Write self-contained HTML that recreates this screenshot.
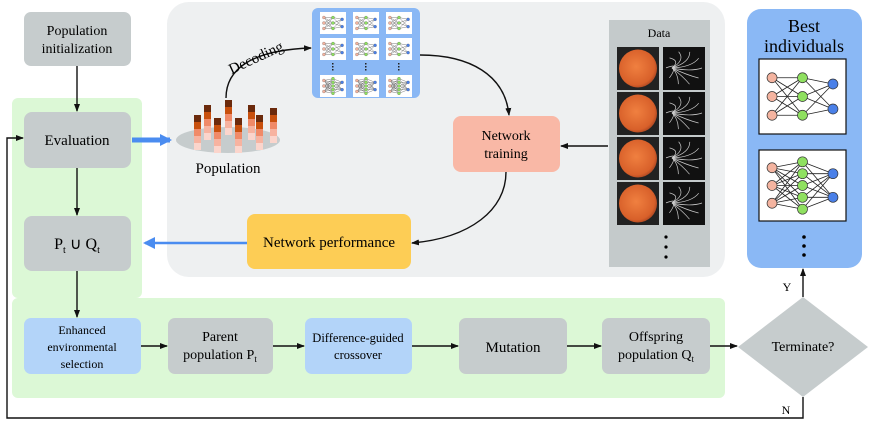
<!DOCTYPE html>
<html><head><meta charset="utf-8"><style>
body{margin:0;background:#fff}
svg{display:block}
svg text{font-family:"Liberation Serif","Times New Roman",serif}
</style></head><body>
<svg id="s" width="872" height="428" viewBox="0 0 872 428" xmlns="http://www.w3.org/2000/svg" font-family="Liberation Serif, serif">
<defs>
<marker id="a" markerWidth="8" markerHeight="8" refX="7" refY="4" orient="auto" markerUnits="userSpaceOnUse"><path d="M0,1 L8,4 L0,7 Z" fill="#111"/></marker>
<marker id="b" markerWidth="12" markerHeight="12" refX="10" refY="6" orient="auto" markerUnits="userSpaceOnUse"><path d="M0,0 L12,6 L0,12 Z" fill="#4a8cf0"/></marker>
<radialGradient id="fg" cx="0.45" cy="0.45" r="0.6"><stop offset="0" stop-color="#f08040"/><stop offset="0.8" stop-color="#d8602a"/><stop offset="1" stop-color="#a04020"/></radialGradient>
</defs>
<rect x="167" y="2" width="558" height="275" rx="22" fill="#eef0f1"/>
<rect x="12" y="98" width="130" height="200" rx="6" fill="#dcf8d6"/>
<rect x="12" y="298" width="713" height="100" rx="6" fill="#dcf8d6"/>
<rect x="747" y="9" width="115" height="259" rx="14" fill="#8ab8f5"/>
<rect x="609" y="20" width="101" height="247" fill="#c4cacb"/>
<text x="659" y="37" font-size="12" text-anchor="middle">Data</text>
<g id="fundus"></g>
<rect x="24" y="12" width="107" height="54" rx="7" fill="#c6cccd"/>
<text x="77" y="35" font-size="14" text-anchor="middle">Population</text>
<text x="77" y="53" font-size="14" text-anchor="middle">initialization</text>
<rect x="24" y="112" width="107" height="56" rx="8" fill="#c6cccd"/>
<text x="77" y="145" font-size="15" text-anchor="middle">Evaluation</text>
<rect x="24" y="216" width="107" height="55" rx="8" fill="#c6cccd"/>
<text x="77" y="249" font-size="16" text-anchor="middle">P<tspan font-size="10" dy="4">t</tspan><tspan dy="-4"> ∪  Q</tspan><tspan font-size="10" dy="4">t</tspan></text>
<rect x="453" y="116" width="107" height="56" rx="8" fill="#f9b8a6"/>
<text x="506" y="140" font-size="14" text-anchor="middle">Network</text>
<text x="506" y="158" font-size="14" text-anchor="middle">training</text>
<rect x="247" y="214" width="164" height="55" rx="8" fill="#fdcd55"/>
<text x="329" y="247" font-size="15" text-anchor="middle">Network performance</text>
<rect x="24" y="318" width="117" height="56" rx="7" fill="#b3d4f9"/>
<text x="82" y="334" font-size="12" text-anchor="middle">Enhanced</text>
<text x="82" y="351" font-size="12" text-anchor="middle">environmental</text>
<text x="82" y="368" font-size="12" text-anchor="middle">selection</text>
<rect x="168" y="318" width="105" height="56" rx="7" fill="#c6cccd"/>
<text x="220" y="341" font-size="14" text-anchor="middle">Parent</text>
<text x="220" y="359" font-size="14" text-anchor="middle">population P<tspan font-size="9" dy="3">t</tspan></text>
<rect x="305" y="318" width="107" height="56" rx="7" fill="#b3d4f9"/>
<text x="358" y="342" font-size="12.5" text-anchor="middle">Difference-guided</text>
<text x="358" y="359" font-size="12.5" text-anchor="middle">crossover</text>
<rect x="459" y="318" width="108" height="56" rx="7" fill="#c6cccd"/>
<text x="513" y="352" font-size="15" text-anchor="middle">Mutation</text>
<rect x="602" y="318" width="108" height="56" rx="7" fill="#c6cccd"/>
<text x="656" y="341" font-size="14" text-anchor="middle">Offspring</text>
<text x="656" y="359" font-size="14" text-anchor="middle">population Q<tspan font-size="9" dy="3">t</tspan></text>
<polygon points="803,297 868,347 803,397 738,347" fill="#c6cccd"/>
<text x="803" y="351" font-size="14" text-anchor="middle">Terminate?</text>
<text x="804" y="32" font-size="18" text-anchor="middle">Best</text>
<text x="804" y="52" font-size="18" text-anchor="middle">individuals</text>
<circle cx="804" cy="237" r="1.8"/><circle cx="804" cy="246" r="1.8"/><circle cx="804" cy="255" r="1.8"/>
<circle cx="666" cy="237" r="1.6"/><circle cx="666" cy="247" r="1.6"/><circle cx="666" cy="257" r="1.6"/>
<ellipse cx="228" cy="140" rx="52" ry="13" fill="#c6cccd"/>
<g id="bars"></g>
<text x="228" y="173" font-size="15" text-anchor="middle">Population</text>
<rect x="312" y="8" width="108" height="90" rx="6" fill="#8ab8f5"/>
<g id="grid"></g>
<g id="best"></g>
<g stroke="#111" stroke-width="1.4" fill="none">
<line x1="77" y1="66" x2="77" y2="111" marker-end="url(#a)"/>
<line x1="77" y1="168" x2="77" y2="215" marker-end="url(#a)"/>
<line x1="77" y1="271" x2="77" y2="317" marker-end="url(#a)"/>
<line x1="141" y1="346" x2="167" y2="346" marker-end="url(#a)"/>
<line x1="273" y1="346" x2="304" y2="346" marker-end="url(#a)"/>
<line x1="412" y1="346" x2="458" y2="346" marker-end="url(#a)"/>
<line x1="567" y1="346" x2="601" y2="346" marker-end="url(#a)"/>
<line x1="710" y1="346" x2="737" y2="346" marker-end="url(#a)"/>
<line x1="803" y1="297" x2="803" y2="269" marker-end="url(#a)"/>
<polyline points="803,397 803,418 7,418 7,138 23,138" marker-end="url(#a)"/>
<line x1="608" y1="146" x2="561" y2="146" marker-end="url(#a)"/>
<path d="M226,98 C226,70 250,50 311,48" marker-end="url(#a)"/>
<path d="M420,55 C470,55 505,75 509,115" marker-end="url(#a)"/>
<path d="M506,172 C506,210 470,238 412,243" marker-end="url(#a)"/>
</g>
<line x1="132" y1="140" x2="170" y2="140" stroke="#4a8cf0" stroke-width="5" marker-end="url(#b)"/>
<line x1="247" y1="243" x2="145" y2="243" stroke="#4a8cf0" stroke-width="2.5" marker-end="url(#b)"/>
<text x="258" y="62" font-size="15" transform="rotate(-25 258 62)" text-anchor="middle">Decoding</text>
<text x="787" y="291" font-size="12" text-anchor="middle">Y</text>
<text x="786" y="414" font-size="12" text-anchor="middle">N</text>
</svg>
<script>
var NS="http://www.w3.org/2000/svg";
function el(p,t,a){var e=document.createElementNS(NS,t);for(var k in a)e.setAttribute(k,a[k]);p.appendChild(e);return e;}
var bars=document.getElementById('bars');
var cols=["#6b2a0c","#c8500e","#f08a68","#f7b3a0","#fbd5cc"];
[[197,115],[207,105],[217,118],[228,100],[238,118],[251,105],[259,115],[273,108]].forEach(function(b){
 for(var i=0;i<5;i++)el(bars,'rect',{x:b[0]-3,y:b[1]+i*7,width:7,height:7,fill:cols[i]});
});
var f=document.getElementById('fundus');
for(var i=0;i<4;i++){var y=47+i*45;
 el(f,'rect',{x:617,y:y,width:42,height:43,fill:'#222'});
 el(f,'circle',{cx:638,cy:y+21.5,r:19,fill:'url(#fg)'});
 el(f,'rect',{x:663,y:y,width:42,height:43,fill:'#111'});
 for(var j=0;j<10;j++){var ang=j*0.63;var x2=684+Math.cos(ang)*18,y2=y+21+Math.sin(ang)*17;
  el(f,'path',{d:'M'+(672)+','+(y+21)+' Q'+(684+Math.cos(ang+0.5)*8)+','+(y+21+Math.sin(ang+0.5)*8)+' '+x2+','+y2,stroke:'#ccc','stroke-width':0.7,fill:'none'});}
}
function net(p,x,y,w,h,L,r){
 var xs=[x+w*0.15,x+w*0.5,x+w*0.85],cl=['#f4b4a0','#8fe060','#4a80e8'],pts=[];
 for(var l=0;l<3;l++){pts[l]=[];for(var k=0;k<L[l];k++)pts[l].push([xs[l],y+h*(k+1)/(L[l]+1)]);}
 for(var l=0;l<2;l++)pts[l].forEach(function(a){pts[l+1].forEach(function(b){el(p,'line',{x1:a[0],y1:a[1],x2:b[0],y2:b[1],stroke:'#222','stroke-width':r>3?0.8:0.3});});});
 for(var l=0;l<3;l++)pts[l].forEach(function(a){el(p,'circle',{cx:a[0],cy:a[1],r:r,fill:cl[l],stroke:'#333','stroke-width':r>3?0.7:0.2});});
}
var g=document.getElementById('grid');
for(var c=0;c<3;c++){var x=320+c*33;
 [12,38,75].forEach(function(y,k){el(g,'rect',{x:x,y:y,width:26,height:22,fill:'#fff'});net(g,x,y,26,22,[3,k==2?5:3,2],1.5);});
 for(var d=0;d<3;d++)el(g,'rect',{x:x+12,y:63+d*3,width:1.5,height:1.5,fill:'#222'});
}
var b=document.getElementById('best');
el(b,'rect',{x:759,y:59,width:87,height:75,fill:'#fff',stroke:'#111','stroke-width':1.2});
net(b,759,59,87,75,[3,3,2],5);
el(b,'rect',{x:759,y:150,width:87,height:71,fill:'#fff',stroke:'#111','stroke-width':1.2});
net(b,759,150,87,71,[3,5,2],5);
</script>
</body></html>
